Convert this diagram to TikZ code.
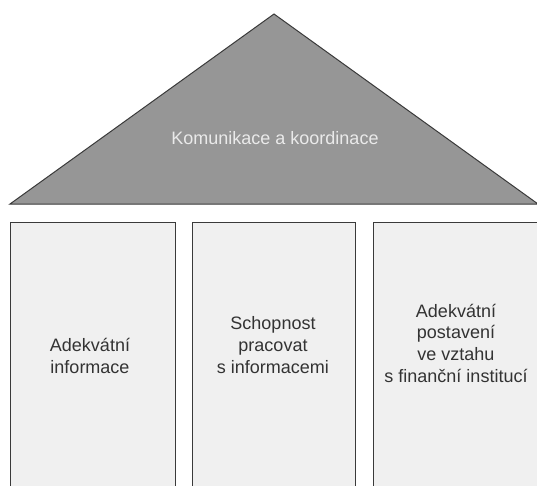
\documentclass[tikz,border=0pt]{standalone}
\usepackage{fontspec}
\setmainfont{Liberation Sans}
\definecolor{roofgray}{HTML}{969696}
\definecolor{edgegray}{HTML}{3A3A3A}
\definecolor{pillarfill}{HTML}{F0F0F0}
\definecolor{rooftext}{HTML}{EAEAEA}
\definecolor{pillartext}{HTML}{333333}
\begin{document}
\begin{tikzpicture}[x=1pt,y=-1pt,
  pillar/.style={draw=edgegray, line width=1pt, fill=pillarfill, rectangle, anchor=north west, minimum height=300pt, inner sep=0pt},
  pillarlabel/.style={align=center, font=\fontsize{18}{21.6}\selectfont, text=pillartext, inner sep=0pt, anchor=base},
  rooflabel/.style={font=\fontsize{18}{21.6}\selectfont, text=rooftext, inner sep=0pt, anchor=base}]
\useasboundingbox (0,0) rectangle (537,485);
\clip (0,0) rectangle (537,485);
\fill[white] (0,0) rectangle (537,485);
% roof
\coordinate (apex) at (274,14);
\coordinate (roofL) at (10,204);
\coordinate (roofR) at (538,204);
\draw[draw=edgegray, line width=1pt, fill=roofgray, line join=miter] (roofL) -- (apex) -- (roofR) -- cycle;
\node[rooflabel] (roof) at (275,144) {Komunikace a koordinace};
% pillars
\node[pillar, minimum width=165pt] (p1) at (10,222) {};
\node[pillar, minimum width=163pt] (p2) at (192,222) {};
\node[pillar, minimum width=170pt] (p3) at (373,222) {};
\node[pillarlabel] (t1) at (90,373) {Adekvátní\\informace};
\node[pillarlabel] (t2) at (273,373) {Schopnost\\pracovat\\s informacemi};
\node[pillarlabel] (t3) at (456,382) {Adekvátní\\postavení\\ve vztahu\\s finanční institucí};
\end{tikzpicture}
\end{document}
